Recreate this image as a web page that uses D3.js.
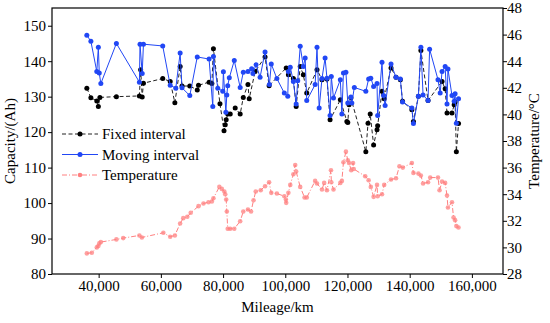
<!DOCTYPE html>
<html>
<head>
<meta charset="utf-8">
<script src="https://cdn.jsdelivr.net/npm/d3@7"></script>
<style>
  body { margin: 0; background: #fff; }
  svg { display: block; font-family: "Liberation Serif", "Times New Roman", serif; }
</style>
</head>
<body>
<div id="chart"></div>
<script>
// values (mileage in km)
const fixedKm = [36200, 37500, 39400, 39900, 40400, 45700, 53100, 53500, 54000, 54400,
  60600, 63000, 64500, 66200, 66800, 69300, 71700, 72100, 75500, 76400, 76900, 79000,
  80300, 80700, 81000, 81500, 82300, 83900, 85500, 86500, 88000, 88400, 90300, 93500,
  94800, 100300, 101000, 102600, 103500, 104800, 105800, 106900, 110200, 111800, 113400,
  114400, 117700, 119800, 120100, 120500, 121100, 125900, 126600, 127300, 128400, 129500,
  129700, 131100, 131800, 134000, 135600, 137000, 137700, 140700, 141200, 142800, 143600,
  145900, 150400, 151400, 152000, 153600, 154300, 154600, 155000, 155700];
const fixedCap = [132.4, 129.7, 128.8, 127.2, 129.8, 130.0, 130.2, 137.6, 129.9, 133.8,
  135.1, 134.3, 128.3, 138.5, 133.0, 133.0, 131.9, 133.2, 134.1, 133.7, 143.5, 128.0,
  120.4, 122.1, 123.5, 125.1, 125.1, 126.8, 125.1, 129.8, 133.4, 129.4, 137.1, 141.2,
  133.1, 138.1, 136.2, 135.1, 127.2, 138.5, 136.2, 131.0, 137.6, 134.8, 135.0,
  123.5, 129.1, 123.0, 122.7, 127.7, 129.6, 114.5, 122.5, 125.1, 116.4, 120.7,
  121.8, 131.5, 129.4, 138.1, 135.5, 134.8, 128.7, 126.3, 123.0, 130.1, 143.0,
  128.9, 134.3, 132.2, 125.4, 125.4, 127.7, 128.5, 114.5, 122.4];

const movingKm = [36200, 37500, 39400, 39900, 40200, 40700, 45700, 53100, 53300, 54000,
  54400, 60600, 63000, 64800, 66200, 66800, 69300, 71700, 75500, 76700, 76900, 78300,
  79900, 80100, 80900, 81200, 81500, 82000, 83600, 85500, 86500, 88000, 89200, 89600,
  90600, 91900, 93500, 94900, 95500, 97300, 99700, 100800, 101000, 101600, 102600, 103500,
  104000, 104800, 105800, 106400, 106900, 109600, 110200, 110900, 111800, 112800, 113400,
  114400, 114800, 115500, 117700, 118200, 118700, 119500, 120100, 121100, 121400, 122200,
  125900, 126800, 127500, 128400, 129500, 129700, 131100, 131600, 132100, 134000, 135600,
  137000, 137700, 140700, 141200, 142800, 143600, 144300, 145900, 146400, 149100, 149800,
  150400, 151400, 152000, 152300, 153600, 154300, 154600, 155000, 155700];
const movingCap = [147.3, 145.6, 137.1, 143.9, 136.7, 133.7, 145.0, 134.1, 144.8, 136.5,
  144.8, 144.3, 133.2, 132.4, 142.3, 132.5, 130.3, 141.2, 140.6, 127.2, 141.3, 132.4,
  131.5, 137.0, 125.6, 130.5, 133.1, 135.3, 140.2, 132.6, 136.9, 137.1, 137.9, 136.5,
  139.0, 135.5, 142.6, 133.4, 139.2, 135.1, 131.0, 130.1, 137.1, 138.3, 134.3, 127.9,
  134.5, 144.2, 138.5, 140.9, 128.9, 133.4, 143.9, 126.8, 135.1, 140.9, 135.2,
  124.7, 135.7, 129.6, 134.8, 125.1, 136.7, 136.9, 128.2, 129.9, 128.2, 132.6,
  131.5, 135.0, 135.2, 132.9, 133.7, 124.7, 139.7, 130.3, 127.5, 139.2, 135.5,
  135.0, 128.5, 126.8, 122.4, 130.1, 143.9, 130.5, 128.9, 143.4, 134.8, 131.0,
  137.1, 138.5, 127.9, 137.8, 130.3, 128.7, 130.8, 122.5, 129.4];

const tempKm = [36200, 37800, 39400, 39900, 40200, 40700, 45700, 47900, 53100, 53900,
  60800, 63000, 64500, 66200, 67200, 68500, 69600, 72100, 73700, 75300, 76400, 76900,
  78800, 79600, 80400, 80700, 81000, 81200, 81500, 82300, 83600, 85500, 86500, 88000,
  89000, 89800, 90500, 92100, 93500, 94800, 95500, 97300, 99700, 100200, 100300, 101000,
  101600, 102600, 103200, 103500, 104800, 106200, 106900, 109600, 110200, 111800, 112500,
  113400, 114700, 114800, 115500, 117700, 118200, 118700, 119500, 120100, 120500, 121200,
  121800, 122000, 125700, 126800, 127500, 128400, 129500, 129700, 131100, 131800, 134000,
  135600, 136700, 137800, 140700, 141200, 142800, 143600, 144300, 145900, 146600, 149100,
  149600, 150400, 151400, 152000, 152300, 153600, 154100, 154600, 155000, 155700];
const tempC = [29.55, 29.6, 30.0, 30.1, 30.3, 30.4, 30.6, 30.7, 30.9, 30.75,
  31.1, 30.8, 30.9, 31.8, 32.2, 32.3, 32.6, 33.1, 33.3, 33.4, 33.45, 33.7,
  34.55, 34.4, 34.2, 34.0, 33.6, 32.7, 31.4, 31.4, 31.4, 31.97, 32.7, 32.85,
  32.7, 33.55, 34.2, 34.3, 34.6, 34.9, 34.1, 34.05, 33.85, 33.6, 33.35, 34.1,
  34.7, 35.5, 36.2, 35.7, 34.55, 33.75, 33.75, 35.0, 34.8, 34.35, 34.85,
  34.3, 35.8, 34.9, 34.35, 34.85, 35.0, 36.4, 37.2, 36.55, 36.35, 35.8,
  36.35, 35.9, 35.35, 35.05, 34.55, 33.8, 34.7, 33.85, 34.0, 34.7, 35.1,
  35.2, 36.1, 36.0, 36.35, 35.6, 35.55, 35.4, 34.8, 34.9, 35.25, 35.25,
  34.3, 34.95, 34.85, 33.9, 33.0, 33.4, 32.25, 32.05, 31.6, 31.5];

const capTicks = [80, 90, 100, 110, 120, 130, 140, 150];
const tempTicks = [28, 30, 32, 34, 36, 38, 40, 42, 44, 46, 48];
const kmTicks = [40000, 60000, 80000, 100000, 120000, 140000, 160000];

const W = 550, H = 323;
const plotL = 52, plotR = 503, plotT = 8, plotB = 274;

const svg = d3.select("#chart").append("svg")
  .attr("width", W).attr("height", H);

const x = d3.scaleLinear().domain([25000, 170000]).range([plotL, plotR]);
const yCap = d3.scaleLinear().domain([80, 155]).range([plotB, plotT]);
const yTemp = d3.scaleLinear().domain([28, 48]).range([plotB, plotT]);

const fixed = fixedKm.map((k, i) => ({ k: k, v: fixedCap[i] }));
const moving = movingKm.map((k, i) => ({ k: k, v: movingCap[i] }));
const temp = tempKm.map((k, i) => ({ k: k, v: tempC[i] }));

const blue = "#2147f5", red = "#ff8080";

// temperature
svg.append("path").datum(temp)
  .attr("fill", "none").attr("stroke", red).attr("stroke-width", 1)
  .attr("stroke-dasharray", "5,2,1,2")
  .attr("d", d3.line().x(d => x(d.k)).y(d => yTemp(d.v)));
svg.append("g").selectAll("circle").data(temp).join("circle")
  .attr("cx", d => x(d.k)).attr("cy", d => yTemp(d.v)).attr("r", 2.3)
  .attr("fill", red).attr("fill-opacity", 0.75);

// fixed interval
svg.append("path").datum(fixed)
  .attr("fill", "none").attr("stroke", "#222").attr("stroke-width", 1)
  .attr("stroke-dasharray", "4,2.5")
  .attr("d", d3.line().x(d => x(d.k)).y(d => yCap(d.v)));
svg.append("g").selectAll("circle").data(fixed).join("circle")
  .attr("cx", d => x(d.k)).attr("cy", d => yCap(d.v)).attr("r", 2.5)
  .attr("fill", "#000");

// moving interval
svg.append("path").datum(moving)
  .attr("fill", "none").attr("stroke", blue).attr("stroke-width", 1)
  .attr("d", d3.line().x(d => x(d.k)).y(d => yCap(d.v)));
svg.append("g").selectAll("circle").data(moving).join("circle")
  .attr("cx", d => x(d.k)).attr("cy", d => yCap(d.v)).attr("r", 2.5)
  .attr("fill", blue);

// frame
svg.append("rect")
  .attr("x", plotL).attr("y", plotT)
  .attr("width", plotR - plotL).attr("height", plotB - plotT)
  .attr("fill", "none").attr("stroke", "#000").attr("stroke-width", 1.2);

// axes
const fontSize = "15px";
const xAxis = svg.append("g").attr("transform", "translate(0," + plotB + ")")
  .call(d3.axisBottom(x).tickValues(kmTicks).tickFormat(d3.format(",")).tickSize(4).tickSizeOuter(0));
const yAxisL = svg.append("g").attr("transform", "translate(" + plotL + ",0)")
  .call(d3.axisLeft(yCap).tickValues(capTicks).tickSize(4).tickSizeOuter(0));
const yAxisR = svg.append("g").attr("transform", "translate(" + plotR + ",0)")
  .call(d3.axisRight(yTemp).tickValues(tempTicks).tickSize(4).tickSizeOuter(0));

[xAxis, yAxisL, yAxisR].forEach(g => {
  g.select(".domain").remove();
  g.selectAll("line").attr("stroke", "#000");
  g.selectAll("text").attr("fill", "#000")
    .style("font-family", "Liberation Serif, serif").style("font-size", fontSize);
});
xAxis.selectAll("text").attr("y", 6).attr("dy", "0.71em");
yAxisL.selectAll("text").attr("x", -6);
yAxisR.selectAll("text").attr("x", 4);

// axis titles
svg.append("text")
  .attr("transform", "translate(12," + (plotT + plotB) / 2 + ") rotate(-90)")
  .attr("text-anchor", "middle").attr("dominant-baseline", "middle")
  .style("font-size", fontSize).text("Capacity/(Ah)");
svg.append("text")
  .attr("transform", "translate(536," + (plotT + plotB) / 2 + ") rotate(-90)")
  .attr("text-anchor", "middle").attr("dominant-baseline", "middle")
  .style("font-size", fontSize).text("Temperature/°C");
svg.append("text")
  .attr("x", (plotL + plotR) / 2).attr("y", 312)
  .attr("text-anchor", "middle")
  .style("font-size", fontSize).text("Mileage/km");

// legend
const legend = [
  { name: "Fixed interval", color: "#222", dot: "#000", dash: "4,2.5", r: 2.5 },
  { name: "Moving interval", color: blue, dot: blue, dash: null, r: 2.5 },
  { name: "Temperature", color: red, dot: red, dash: "5,2,1,2", r: 2.3 }
];
const lg = svg.append("g").selectAll("g").data(legend).join("g")
  .attr("transform", (d, i) => "translate(62," + (134 + i * 20.5) + ")");
lg.append("line").attr("x1", 0).attr("x2", 36)
  .attr("stroke", d => d.color).attr("stroke-width", 1)
  .attr("stroke-dasharray", d => d.dash);
lg.append("circle").attr("cx", 18).attr("r", d => d.r).attr("fill", d => d.dot);
lg.append("text").attr("x", 40).attr("dy", "0.35em")
  .style("font-size", fontSize).text(d => d.name);
</script>
</body>
</html>
